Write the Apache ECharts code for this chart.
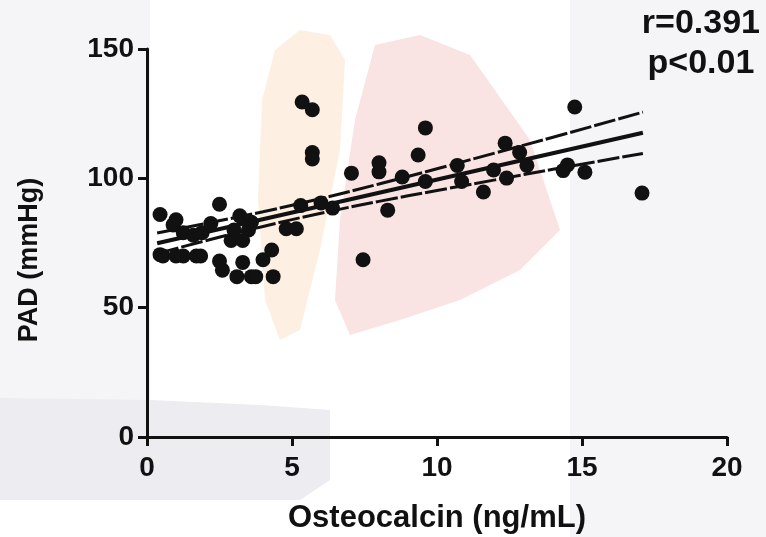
<!DOCTYPE html>
<html>
<head>
<meta charset="utf-8">
<script src="https://cdn.jsdelivr.net/npm/echarts@6/dist/echarts.min.js"></script>
<style>
  html, body { margin: 0; padding: 0; background: #fff; }
  #chart { width: 766px; height: 537px; }
</style>
</head>
<body>
<div id="chart"></div>
<script>
// points: [osteocalcin, PAD]
const points = [
  [0.45, 86], [0.45, 70.5], [1.0, 84], [0.55, 70], [1.0, 70], [1.25, 70],
  [1.7, 70], [1.85, 70], [0.9, 82], [1.25, 79], [1.6, 78], [1.9, 79],
  [2.2, 82.5], [2.5, 90], [2.5, 68], [2.6, 64.5], [2.9, 76], [3.0, 80],
  [3.2, 85.5], [3.3, 67.5], [3.1, 62], [3.6, 62], [3.75, 62], [4.0, 68.5],
  [4.3, 72.3], [4.35, 62], [3.6, 83], [3.5, 80], [4.8, 80.5], [5.15, 80.5],
  [5.3, 89.5], [3.3, 76],
  [5.35, 129.5], [5.7, 126.5], [5.7, 110], [5.7, 107.5], [6.0, 90.5], [6.4, 88.5],
  [7.05, 102], [7.45, 68.5], [8.0, 106], [8.0, 102.5], [8.3, 87.7], [8.8, 100.5],
  [9.35, 109], [9.6, 98.8], [9.6, 119.5], [10.7, 105], [10.85, 98.8], [11.6, 94.7],
  [11.95, 103.2], [12.35, 113.6], [12.4, 100.1], [12.85, 110], [13.1, 105],
  [14.35, 103], [14.5, 105.2], [14.75, 127.6], [15.1, 102.4], [17.07, 94.3]
];

// regression line and 95% band
const fitX = [0.35, 17.1];
const fitY = [74.9, 117.6];
const bandX = [0.35, 2, 4, 6, 8, 10, 12, 14, 17.1];
const bandUpper = [78.9, 82.5, 87.1, 92.2, 97.8, 103.7, 109.8, 115.9, 125.6];
const bandLower = [70.9, 75.8, 81.4, 86.5, 91.1, 95.3, 99.4, 103.5, 109.6];

const xTicks = [0, 5, 10, 15, 20];
const yTicks = [0, 50, 100, 150];
const statsText = ['r=0.391', 'p<0.01'];

const font = '"Liberation Sans", Arial, sans-serif';
const ink = '#111111';

const zip = (xs, ys) => xs.map((x, i) => [x, ys[i]]);

const chart = echarts.init(document.getElementById('chart'));

chart.setOption({
  backgroundColor: '#ffffff',
  animation: false,
  grid: { left: 147, right: 39, top: 49, bottom: 100, outerBoundsMode: 'none' },
  graphic: [
    // faint watermark behind the plot
    { type: 'rect', z: -100, shape: { x: 0, y: 0, width: 150, height: 400 }, style: { fill: '#f5f5f8' } },
    { type: 'rect', z: -100, shape: { x: 570, y: 0, width: 196, height: 537 }, style: { fill: '#f5f5f8' } },
    { type: 'polygon', z: -99, shape: { points: [[0, 398], [150, 400], [260, 405], [330, 410], [330, 480], [300, 500], [0, 500]] }, style: { fill: '#ececf1' } },
    { type: 'polygon', z: -99, shape: { points: [[262, 100], [275, 50], [300, 30], [330, 35], [345, 60], [340, 150], [320, 250], [300, 330], [280, 340], [265, 300], [258, 200]] }, style: { fill: '#fdf0e2' } },
    { type: 'polygon', z: -99, shape: { points: [[375, 45], [420, 35], [470, 55], [530, 140], [560, 230], [520, 270], [460, 300], [400, 320], [350, 335], [335, 300], [340, 220], [355, 120]] }, style: { fill: '#f9e3e3' } },
    {
      type: 'text', right: 6, top: 4,
      style: {
        text: statsText.join('\n'), fill: ink, font: 'bold 34px ' + font,
        textAlign: 'center', lineHeight: 40
      }
    }
  ],
  xAxis: {
    type: 'value', min: 0, max: 20, interval: 5,
    name: 'Osteocalcin (ng/mL)', nameLocation: 'middle', nameGap: 66,
    nameTextStyle: { fontFamily: font, fontWeight: 'bold', fontSize: 31, color: ink },
    axisLine: { onZero: false, lineStyle: { color: ink, width: 3 } },
    axisTick: { length: 9, lineStyle: { color: ink, width: 3 } },
    axisLabel: {
      margin: 17, fontFamily: font, fontWeight: 'bold', fontSize: 28, color: ink,
      formatter: v => xTicks.includes(v) ? String(v) : ''
    },
    splitLine: { show: false }
  },
  yAxis: {
    type: 'value', min: 0, max: 150, interval: 50,
    name: 'PAD (mmHg)', nameLocation: 'middle', nameGap: 104, nameRotate: 90,
    nameTextStyle: { fontFamily: font, fontWeight: 'bold', fontSize: 27, color: ink, padding: [0, 34, 0, 0] },
    axisLine: { onZero: false, lineStyle: { color: ink, width: 3 } },
    axisTick: { length: 9, lineStyle: { color: ink, width: 3 } },
    axisLabel: {
      margin: 13, fontFamily: font, fontWeight: 'bold', fontSize: 28, color: ink,
      formatter: v => yTicks.includes(v) ? String(v) : ''
    },
    splitLine: { show: false }
  },
  series: [
    {
      type: 'scatter', data: points, symbol: 'circle', symbolSize: 15,
      itemStyle: { color: ink, opacity: 1 }, z: 3
    },
    {
      type: 'line', data: zip(fitX, fitY), showSymbol: false,
      lineStyle: { color: ink, width: 4 }, z: 4
    },
    {
      type: 'line', data: zip(bandX, bandUpper), showSymbol: false, smooth: true,
      lineStyle: { color: ink, width: 3, type: [22, 3] }, z: 4
    },
    {
      type: 'line', data: zip(bandX, bandLower), showSymbol: false, smooth: true,
      lineStyle: { color: ink, width: 3, type: [22, 3] }, z: 4
    }
  ]
});
</script>
</body>
</html>
